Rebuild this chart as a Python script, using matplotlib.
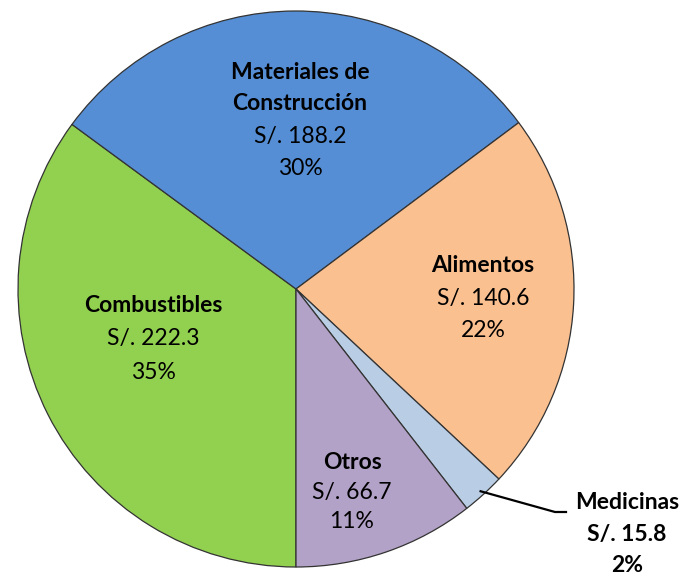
import matplotlib
matplotlib.use("Agg")
import matplotlib.pyplot as plt
import numpy as np

categories = ["Combustibles", "Materiales de\nConstrucción", "Alimentos", "Medicinas", "Otros"]
values = [222.3, 188.2, 140.6, 15.8, 66.7]
percents = ["35%", "30%", "22%", "2%", "11%"]
colors = ["#92D050", "#558ED5", "#FAC090", "#B9CDE5", "#B3A2C7"]

plt.rcParams['font.family'] = ['Lato', 'DejaVu Sans']

fig = plt.figure(figsize=(6.88, 5.8), dpi=100)
ax = fig.add_axes([0, 0, 1, 1])
cx, cy, R = 296, 289, 278

wedges, _ = ax.pie(values, colors=colors, startangle=270, counterclock=False,
                   radius=1.0, wedgeprops=dict(edgecolor='#333333', linewidth=0.9))
ax.set_xlim(-cx / R, (688 - cx) / R)
ax.set_ylim(-(580 - cy) / R, cy / R)
ax.set_aspect('equal')
ax.axis('off')

fs = 16.5
def px(x, y):
    return ((x - cx) / R, (cy - y) / R)

# label layout (pixel centres of each line)
layouts = {
    0: (153, [305, 338, 372]),
    1: (300, [72, 103, 136, 168]),
    2: (483, [265, 298, 330]),
    4: (352, [462, 492, 522]),
}
for i, (x, ys) in layouts.items():
    name_lines = categories[i].split("\n")
    lines = [(l, 'bold') for l in name_lines] + [(f"S/. {values[i]}", 'normal'), (percents[i], 'normal')]
    for (txt, w), y in zip(lines, ys):
        ax.text(*px(x, y), txt, ha='center', va='center', fontsize=fs, fontweight=w, color='black')

# Medicinas outside label with leader line
for txt, y in zip([categories[3], f"S/. {values[3]}", percents[3]], [502, 535, 565]):
    ax.text(*px(627, y), txt, ha='center', va='center', fontsize=fs, fontweight='bold', color='black')
mid = np.deg2rad((wedges[3].theta1 + wedges[3].theta2) / 2)
x0, y0 = 0.985 * np.cos(mid), 0.985 * np.sin(mid)
x1, y1 = px(555, 512)
x2, y2 = px(566, 512)
ax.plot([x0, x1, x2], [y0, y1, y2], color='black', lw=1.6)

fig.savefig("out.png", dpi=100, facecolor='white')
